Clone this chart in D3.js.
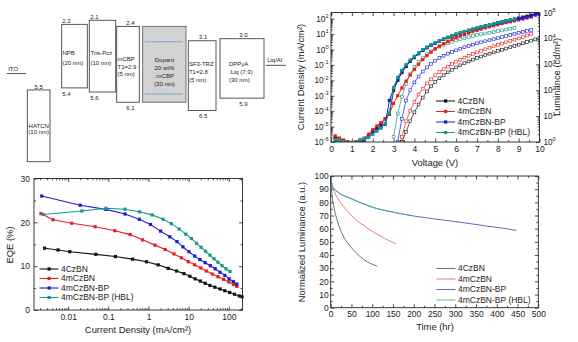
<!DOCTYPE html>
<html>
<head>
<meta charset="utf-8">
<script src="https://cdn.jsdelivr.net/npm/d3@7"></script>
<style>
  body { margin: 0; background: #fff; }
  text { font-family: "Liberation Sans", Arial, sans-serif; fill: #222; }
</style>
</head>
<body>
<script>
// ---------------- data: energy diagram ----------------
const layerNames = ["HATCN", "NPB", "Tris-Pcz", "mCBP", "Dopant", "SF3-TRZ", "DPPyA"];
const layerLumo = [5.5, 2.3, 2.1, 2.4, 2.4, 3.1, 3.0];
const layerHomo = [9.0, 5.4, 5.6, 6.1, 6.1, 6.5, 5.9];
const lumoLabels = ["5.5", "2.3", "2.1", "2.4", "", "3.1", "3.0"];
const homoLabels = ["", "5.4", "5.6", "6.1", "", "6.5", "5.9"];
const layerLines = [
  ["HATCN", "(10 nm)"],
  ["NPB", "(20 nm)"],
  ["Tris-Pcz", "(10 nm)"],
  ["mCBP", "T1=2.9", "(5 nm)"],
  ["Dopant", "20 wt%", ":mCBP", "(30 nm)"],
  ["SF3-TRZ", "T1=2.8", "(5 nm)"],
  ["DPPyA", ":Liq (7:3)", "(30 nm)"]
];
const electrodeNames = ["ITO", "Liq/Al"];
const electrodeLevels = [4.7, 4.3];
const dopantLevels = [3.15, 5.7];

// ---------------- data: J-V-L ----------------
const seriesNames = ["4CzBN", "4mCzBN", "4mCzBN-BP", "4mCzBN-BP (HBL)"];
const voltage = [0.2, 0.4, 0.6, 0.8, 1.0, 1.2, 1.4, 1.6, 1.8, 2.0, 2.2, 2.4, 2.6, 2.8, 3.0,
  3.2, 3.4, 3.6, 3.8, 4.0, 4.2, 4.4, 4.6, 4.8, 5.0, 5.2, 5.4, 5.6, 5.8, 6.0,
  6.2, 6.4, 6.6, 6.8, 7.0, 7.2, 7.4, 7.6, 7.8, 8.0, 8.2, 8.4, 8.6, 8.8, 9.0,
  9.2, 9.4, 9.6, 9.8, 10.0];
const jCzBN = [2.0e-6, 1.6e-6, 1.3e-6, 1.0e-6, 8.9e-7, 1.0e-6, 1.3e-6, 1.6e-6, 2.5e-6, 5.0e-6, 8.9e-6, 1.6e-5, 3.2e-5, 6.3e-5,
  2.2e-3, 0.010, 0.032, 0.079, 0.17, 0.30, 0.54, 0.87, 1.3, 1.9, 2.6, 3.5, 4.7, 6.0, 7.8, 9.8,
  12, 14.5, 17.4, 20.9, 24.5, 28.8, 33.9, 39.8, 46.8, 55, 63, 72, 83, 95, 110, 126, 145, 166, 195, 229];
const jmCzBN = [2.5e-6, 1.8e-6, 1.3e-6, 1.0e-6, 8.9e-7, 1.0e-6, 1.3e-6, 1.8e-6, 3.2e-6, 6.3e-6, 1.1e-5, 1.8e-5, 3.2e-5, 6.3e-5,
  3.2e-4, 1.0e-3, 3.2e-3, 8.9e-3, 0.022, 0.052, 0.11, 0.22, 0.40, 0.68, 1.1, 1.66, 2.4, 3.3, 4.5, 5.9,
  7.6, 9.5, 11.7, 14.5, 17.4, 20.9, 25.1, 29.5, 34.7, 40.7, 47.9, 55, 63, 72, 83, 95, 110, 126];
const jBP = [1.3e-6, 1.0e-6, 8.9e-7, 7.9e-7, 7.9e-7, 7.9e-7, 8.9e-7, 1.3e-6, 2.0e-6, 3.5e-6, 6.3e-6, 1.0e-5, 1.4e-5, 5.0e-4,
  2.8e-3, 0.011, 0.035, 0.085, 0.18, 0.32, 0.55, 0.89, 1.35, 1.9, 2.6, 3.5, 4.6, 5.9, 7.4, 9.3,
  11.5, 13.8, 16.6, 19.5, 22.9, 26.9, 31.6, 37.2, 42.7, 49, 56, 65, 74, 85, 98, 112, 129, 148, 170, 195];
const jHBL = [1.4e-6, 1.3e-6, 1.0e-6, 8.9e-7, 7.9e-7, 1.0e-6, 1.4e-6, 1.6e-6, 2.0e-6, 3.2e-6, 5.0e-6, 7.9e-6, 1.6e-5, 7.9e-5,
  3.5e-3, 0.016, 0.045, 0.105, 0.21, 0.36, 0.62, 0.98, 1.45, 2.0, 2.8, 3.7, 4.9, 6.3, 7.9, 10,
  12.3, 14.8, 17.8, 20.9, 24.5, 28.8, 33.9, 39.8, 46.8, 53.7, 61.7, 70.8, 81.3, 93.3];
// luminance, aligned with the voltage list (null = not measured / below range)
const lCzBN = [null, null, null, null, null, null, null, null, null, null, null, null, null, null, null,
  0.32, 1.0, 2.5, 6.3, 14, 28, 52, 89, 141, 209, 288, 380, 490, 617, 759,
  912, 1100, 1290, 1510, 1740, 2000, 2290, 2570, 2880, 3240, 3630, 4070, 4570, 5130, 5750,
  6460, 7240, 8130, 9120, 10500];
const lmCzBN = [null, null, null, null, null, null, null, null, null, null, null, null, null, null, null,
  0.35, 1.6, 6.3, 16, 35, 68, 115, 182, 263, 380, 500, 646, 813, 1020, 1260,
  1510, 1820, 2140, 2510, 2880, 3310, 3800, 4370, 5010, 5620, 6310, 7080, 7940, 8910, 10000,
  11200, 12900, 14800];
const lBP = [null, null, null, null, null, null, null, null, null, null, null, null, null, null, null,
  1.0, 7.9, 40, 100, 200, 339, 525, 759, 1050, 1380, 1740, 2140, 2570, 3020, 3470,
  3980, 4570, 5130, 5750, 6460, 7080, 7760, 8510, 9330, 10200, 11200, 12300, 13500, 14800, 16200,
  17800, 19500, 21400];
const lHBL = [null, null, null, null, null, null, null, null, null, null, null, null, null, null, 1.6,
  12.6, 56, 178, 417, 794, 1260, 1820, 2450, 3160, 3980, 4790, 5620, 6460, 7410, 8320,
  9330, 10200, 11200, 12300, 13500, 14500, 15500, 16600, 17800, 19100, 20400, 21900, 23400, 25100];

// ---------------- data: EQE ----------------
const eqeJ_CzBN = [0.0026, 0.0056, 0.011, 0.049, 0.15, 0.40, 0.89, 1.74, 3.1, 5.0, 7.6, 10.7, 14.5, 19.5, 25.7, 33.9, 44.7, 60.3, 79.4, 105, 138, 182, 214];
const eqe_CzBN = [14.1, 13.7, 13.3, 12.7, 12.2, 11.6, 11.0, 10.3, 9.5, 8.9, 8.3, 7.7, 7.1, 6.6, 6.1, 5.6, 5.2, 4.8, 4.4, 4.0, 3.6, 3.2, 3.0];
const eqeJ_mCzBN = [0.0021, 0.0042, 0.0123, 0.047, 0.145, 0.35, 0.71, 1.45, 2.6, 4.3, 6.6, 9.8, 14.1, 20, 27.5, 38.9, 53.7, 74, 100, 132, 158];
const eqe_mCzBN = [22.0, 20.6, 19.8, 19.0, 18.1, 17.2, 16.0, 14.8, 13.8, 12.8, 11.9, 11.0, 10.3, 9.6, 8.9, 8.2, 7.6, 7.0, 6.4, 5.8, 5.4];
const eqeJ_BP = [0.0022, 0.020, 0.087, 0.26, 0.59, 1.12, 2.0, 3.4, 5.1, 7.2, 10.2, 14.1, 19, 25.7, 34.7, 45.7, 60.3, 79.4, 102, 129, 158];
const eqe_BP = [26.0, 23.9, 22.95, 21.9, 20.7, 19.5, 18.0, 16.7, 15.6, 14.4, 13.3, 12.3, 11.5, 10.8, 10.1, 9.4, 8.6, 7.9, 7.1, 6.5, 5.9];
const eqeJ_HBL = [0.0024, 0.022, 0.087, 0.26, 0.60, 1.23, 2.3, 3.7, 5.8, 8.5, 11.7, 15.8, 20.4, 26.3, 33.9, 42.7, 53.7, 67.6, 85.1, 107];
const eqe_HBL = [21.8, 22.6, 23.2, 23.0, 22.4, 21.7, 20.7, 19.7, 18.5, 17.3, 16.3, 15.2, 14.3, 13.4, 12.5, 11.7, 10.9, 10.1, 9.4, 8.8];

// ---------------- data: lifetime ----------------
const timeCzBN = [0, 1, 2, 3, 5, 7, 10, 15, 20, 25, 30, 40, 50, 60, 70, 80, 90, 100, 112];
const lumCzBN = [100, 93, 89, 86, 81, 77.5, 73, 67, 62, 58, 54.5, 49.5, 45.5, 42, 39, 36.5, 34.5, 33, 31.5];
const timemCzBN = [0, 1, 2, 3, 5, 7, 10, 15, 20, 30, 40, 50, 60, 70, 80, 90, 100, 110, 120, 130, 140, 150, 157];
const lummCzBN = [100, 96, 94, 92.5, 90.5, 89, 87, 84, 81.5, 77, 73.5, 70, 67, 64.5, 62.5, 60, 58, 56, 54.5, 52.5, 51, 49.5, 48.5];
const timeBP = [0, 1, 2, 3, 5, 7, 10, 15, 20, 30, 40, 50, 60, 80, 100, 125, 150, 175, 200, 225, 250, 275, 300, 325, 350, 375, 400, 425, 447];
const lumBP = [100, 96, 94, 93, 91.5, 90.5, 89.5, 88.2, 87, 85.3, 84, 82.6, 81.2, 78.7, 76.3, 74.2, 72.5, 71, 69.6, 68.5, 67.4, 66.4, 65.4, 64.3, 63.2, 62, 61, 59.9, 58.7];
const timeHBL = [0, 1, 2, 3, 5, 7, 10, 15, 20, 30, 40, 50, 60, 80, 100, 125, 150, 175, 190];
const lumHBL = [100, 96.5, 94.5, 93.2, 91.8, 90.8, 89.7, 88.4, 87.2, 85.5, 84.1, 82.8, 81.4, 78.9, 76.5, 74.3, 72.6, 71.1, 70.3];

// ---------------- styles ----------------
const FONT = '"Liberation Sans", Arial, sans-serif';
const strongColors = ["#111111", "#e8201c", "#1c1cd8", "#16998a"];
const lightColors = ["#606060", "#e87272", "#5050c8", "#44b5a3"];
const INK = "#222";

const svg = d3.select("body").append("svg").attr("width", 578).attr("height", 342);
const defs = svg.append("defs");

function frame(r) {
  svg.append("rect").attr("x", r.left).attr("y", r.top)
    .attr("width", r.right - r.left).attr("height", r.bottom - r.top)
    .attr("fill", "none").attr("stroke", INK).attr("stroke-width", 0.9);
}
function clipFor(id, r) {
  defs.append("clipPath").attr("id", id).append("rect")
    .attr("x", r.left).attr("y", r.top).attr("width", r.right - r.left).attr("height", r.bottom - r.top);
  return svg.append("g").attr("clip-path", `url(#${id})`);
}
function axis(gen, vals, size, fmt, transform, pad) {
  const g = svg.append("g").attr("transform", transform)
    .call(gen.tickValues(vals).tickSize(size).tickPadding(pad || 3).tickFormat(fmt || ""));
  g.select(".domain").remove();
  g.selectAll("line").attr("stroke", INK).attr("stroke-width", 0.8);
  g.selectAll("text").attr("font-family", FONT).attr("font-size", 8.5).attr("fill", INK);
  return g;
}
function title(txt, x, y, rot) {
  svg.append("text").attr("x", x).attr("y", y).attr("text-anchor", "middle").attr("dy", "0.35em")
    .attr("font-size", 9.4).attr("transform", rot ? `rotate(-90,${x},${y})` : null).text(txt);
}
function squares(g, pts, color, size, open) {
  g.append("g").selectAll("rect").data(pts).join("rect")
    .attr("x", d => d[0] - size / 2).attr("y", d => d[1] - size / 2)
    .attr("width", size).attr("height", size)
    .attr("fill", open ? "#fff" : color).attr("stroke", open ? color : "none").attr("stroke-width", 0.6);
}
function path(g, pts, color, w) {
  g.append("path").attr("d", d3.line()(pts)).attr("fill", "none")
    .attr("stroke", color).attr("stroke-width", w);
}
function legend(x0, ys, colors, withMarks, w) {
  seriesNames.forEach((name, i) => {
    const y = ys[i];
    svg.append("line").attr("x1", x0).attr("x2", x0 + 19).attr("y1", y).attr("y2", y)
      .attr("stroke", colors[i]).attr("stroke-width", w);
    if (withMarks) svg.append("rect").attr("x", x0 + 8).attr("y", y - 1.6).attr("width", 3.2).attr("height", 3.2).attr("fill", colors[i]);
    svg.append("text").attr("x", x0 + 21.5).attr("y", y).attr("dy", "0.35em").attr("font-size", 8.5).text(name);
  });
}
function powLabels(scale, vals, x, anchor) {
  svg.append("g").selectAll("text").data(vals).join("text")
    .attr("x", x).attr("y", d => scale(d) + 3).attr("text-anchor", anchor).attr("font-size", 8.2)
    .each(function (d) {
      const t = d3.select(this);
      t.append("tspan").text("10");
      t.append("tspan").attr("dy", -3.6).attr("font-size", 5.6).text(Math.round(Math.log10(d)));
    });
}

// ================= top-left: energy level diagram =================
const eScale = d3.scaleLinear().domain([2, 9]).range([18.2, 161.7]);
const boxLeft = [27.3, 61.7, 89.3, 116.7, 142.7, 188.3, 220];
const boxWidth = [22.7, 25.6, 26.4, 22.6, 43.3, 27.7, 44];
const textLayout = [
  { anchor: "middle", dx: 11.4, y: 125.5, step: 6.8 },
  { anchor: "start", dx: 0.8, y: 52.7, step: 10 },
  { anchor: "start", dx: 1.2, y: 52.7, step: 10 },
  { anchor: "start", dx: 0.8, y: 59.3, step: 7.3 },
  { anchor: "middle", dx: 21.7, y: 60, step: 7.8 },
  { anchor: "start", dx: 0.6, y: 64, step: 7.7 },
  { anchor: "start", dx: 9, y: 64, step: 7.9 }
];
const levelAnchor = ["middle", "start", "start", "middle", "middle", "middle", "middle"];
const levelShift = [0, 0.5, 1, 2.5, 0, 1, 1.5];

const diag = svg.append("g");
layerNames.forEach((name, i) => {
  const x = boxLeft[i], w = boxWidth[i];
  const y0 = eScale(layerLumo[i]), y1 = eScale(layerHomo[i]);
  const isDopant = name === "Dopant";
  diag.append("rect").attr("x", x).attr("y", y0).attr("width", w).attr("height", y1 - y0)
    .attr("fill", isDopant ? "#d2d2d2" : "#fff").attr("stroke", isDopant ? "#666" : "#444").attr("stroke-width", 0.9);
  if (isDopant) {
    dopantLevels.forEach(lv => {
      diag.append("line").attr("x1", x + 2.5).attr("x2", x + w - 3).attr("y1", eScale(lv)).attr("y2", eScale(lv))
        .attr("stroke", "#3f86d8").attr("stroke-width", 1).attr("stroke-dasharray", "1.2,0.9");
    });
  }
  const tl = textLayout[i];
  layerLines[i].forEach((ln, k) => {
    diag.append("text").attr("x", x + tl.dx).attr("y", tl.y + k * tl.step).attr("dy", "0.35em")
      .attr("text-anchor", tl.anchor).attr("font-size", 6).attr("fill", "#333").text(ln);
  });
  const lx = levelAnchor[i] === "middle" ? x + w / 2 + levelShift[i] : x + levelShift[i];
  if (lumoLabels[i]) diag.append("text").attr("x", lx).attr("y", y0 - 3.4).attr("dy", "0.35em")
    .attr("text-anchor", levelAnchor[i]).attr("font-size", 6).attr("fill", "#333").text(lumoLabels[i]);
  if (homoLabels[i]) diag.append("text").attr("x", lx).attr("y", y1 + 5.6).attr("dy", "0.35em")
    .attr("text-anchor", levelAnchor[i]).attr("font-size", 6).attr("fill", "#333").text(homoLabels[i]);
});
const electrodeX = [[6.7, 26], [265.7, 286]];
electrodeNames.forEach((name, i) => {
  const y = eScale(electrodeLevels[i]);
  diag.append("line").attr("x1", electrodeX[i][0]).attr("x2", electrodeX[i][1]).attr("y1", y).attr("y2", y)
    .attr("stroke", "#444").attr("stroke-width", 0.9);
  diag.append("text").attr("x", electrodeX[i][0] + 1.5).attr("y", y - 5).attr("dy", "0.35em")
    .attr("font-size", 6).attr("fill", "#333").text(name);
});

// ================= top-right: J-V-L =================
const tr = { left: 331, right: 539.5, top: 12.5, bottom: 142 };
const xV = d3.scaleLinear().domain([0, 10]).range([tr.left, tr.right]);
const yJ = d3.scaleLog().domain([1e-6, Math.pow(10, 2.4)]).range([tr.bottom, tr.top]);
const yLum = d3.scaleLog().domain([1, 1e5]).range([tr.bottom, tr.top]);

const jDecades = [1e-6, 1e-5, 1e-4, 1e-3, 1e-2, 1e-1, 1, 10, 100];
const lDecades = [1, 10, 100, 1000, 1e4, 1e5];
const vMajor = d3.range(0, 11, 1);
const vMinor = d3.range(0.5, 10, 1);
const jMinor = yJ.ticks().filter(d => !jDecades.some(k => Math.abs(k - d) / k < 1e-6));
const lMinor = yLum.ticks().filter(d => !lDecades.includes(d));

axis(d3.axisBottom(xV), vMajor, -3.5, d3.format("d"), `translate(0,${tr.bottom})`, 3.5);
axis(d3.axisBottom(xV), vMinor, -2, "", `translate(0,${tr.bottom})`);
axis(d3.axisTop(xV), vMajor, -3.5, "", `translate(0,${tr.top})`);
axis(d3.axisTop(xV), vMinor, -2, "", `translate(0,${tr.top})`);
axis(d3.axisLeft(yJ), jDecades, -3.5, "", `translate(${tr.left},0)`);
axis(d3.axisLeft(yJ), jMinor, -1.8, "", `translate(${tr.left},0)`);
axis(d3.axisRight(yLum), lDecades, -3.5, "", `translate(${tr.right},0)`);
axis(d3.axisRight(yLum), lMinor, -1.8, "", `translate(${tr.right},0)`);
powLabels(yJ, jDecades, tr.left - 2.5, "end");
powLabels(yLum, lDecades, tr.right + 4, "start");

const jvClip = clipFor("jv", tr);
const jSets = [jCzBN, jmCzBN, jBP, jHBL];
const lSets = [lCzBN, lmCzBN, lBP, lHBL];
lSets.forEach((vals, i) => {
  const pts = vals.map((v, k) => v == null ? null : [xV(voltage[k]), yLum(v)]).filter(p => p);
  path(jvClip, pts, strongColors[i], 0.7);
  squares(jvClip, pts, strongColors[i], 2.8, true);
});
jSets.forEach((vals, i) => {
  const pts = vals.map((v, k) => [xV(voltage[k]), yJ(v)]);
  path(jvClip, pts, strongColors[i], 1);
  squares(jvClip, pts, strongColors[i], 3.2, false);
});
frame(tr);
title("Current Density (mA/cm\u00b2)", 301, 77, true);
title("Luminance (cd/m\u00b2)", 557, 77, true);
title("Voltage (V)", 435, 163, false);
legend(436, [101, 111.5, 122, 132.5], strongColors, true, 1);

// ================= bottom-left: EQE =================
const bl = { left: 34, right: 242.5, top: 178.5, bottom: 310 };
const xJ = d3.scaleLog().domain([Math.pow(10, -2.85), Math.pow(10, 2.34)]).range([bl.left, bl.right]);
const yE = d3.scaleLinear().domain([0, 30]).range([bl.bottom, bl.top]);
const jMajor = [0.01, 0.1, 1, 10, 100];
const jxMinor = xJ.ticks().filter(d => !jMajor.some(k => Math.abs(k - d) / k < 1e-6));
const eMajor = [0, 10, 20, 30];
const eMinor = [5, 15, 25];

axis(d3.axisBottom(xJ), jMajor, -3.5, d => d >= 1 ? d3.format("d")(d) : String(d), `translate(0,${bl.bottom})`, 4);
axis(d3.axisBottom(xJ), jxMinor, -1.8, "", `translate(0,${bl.bottom})`);
axis(d3.axisTop(xJ), jMajor, -3.5, "", `translate(0,${bl.top})`);
axis(d3.axisTop(xJ), jxMinor, -1.8, "", `translate(0,${bl.top})`);
axis(d3.axisLeft(yE), eMajor, -3.5, d3.format("d"), `translate(${bl.left},0)`, 4);
axis(d3.axisLeft(yE), eMinor, -2, "", `translate(${bl.left},0)`);
axis(d3.axisRight(yE), eMajor, -3.5, "", `translate(${bl.right},0)`);
axis(d3.axisRight(yE), eMinor, -2, "", `translate(${bl.right},0)`);

const eqeClip = clipFor("eqe", { left: bl.left - 2, right: bl.right + 2, top: bl.top, bottom: bl.bottom });
const eqeX = [eqeJ_CzBN, eqeJ_mCzBN, eqeJ_BP, eqeJ_HBL];
const eqeY = [eqe_CzBN, eqe_mCzBN, eqe_BP, eqe_HBL];
eqeX.forEach((xs, i) => {
  const pts = xs.map((v, k) => [xJ(v), yE(eqeY[i][k])]);
  path(eqeClip, pts, strongColors[i], 1.1);
  squares(eqeClip, pts, strongColors[i], 3.2, false);
});
frame(bl);
title("EQE (%)", 10, 245, true);
title("Current Density (mA/cm\u00b2)", 138, 330, false);
legend(39.5, [269, 278.5, 288, 297.5], strongColors, true, 1.1);

// ================= bottom-right: lifetime =================
const br = { left: 330.7, right: 538.3, top: 176, bottom: 307.7 };
const xT = d3.scaleLinear().domain([0, 500]).range([br.left, br.right]);
const yN = d3.scaleLinear().domain([0, 100]).range([br.bottom, br.top]);
const tMajor = d3.range(0, 501, 50);
const tMinor = d3.range(25, 500, 50);
const nMajor = d3.range(0, 101, 10);
const nMinor = d3.range(5, 100, 10);

axis(d3.axisBottom(xT), tMajor, -3.5, d3.format("d"), `translate(0,${br.bottom})`, 3.5);
axis(d3.axisBottom(xT), tMinor, -2, "", `translate(0,${br.bottom})`);
axis(d3.axisTop(xT), tMajor, -3.5, "", `translate(0,${br.top})`);
axis(d3.axisTop(xT), tMinor, -2, "", `translate(0,${br.top})`);
axis(d3.axisLeft(yN), nMajor, -3.5, d3.format("d"), `translate(${br.left},0)`, 2);
axis(d3.axisLeft(yN), nMinor, -2, "", `translate(${br.left},0)`);
axis(d3.axisRight(yN), nMajor, -3.5, "", `translate(${br.right},0)`);
axis(d3.axisRight(yN), nMinor, -2, "", `translate(${br.right},0)`);

const ltClip = clipFor("lt", br);
const tSets = [timeCzBN, timemCzBN, timeBP, timeHBL];
const nSets = [lumCzBN, lummCzBN, lumBP, lumHBL];
tSets.forEach((ts, i) => {
  const pts = ts.map((t, k) => [xT(t), yN(nSets[i][k])]);
  ltClip.append("path").attr("d", d3.line().curve(d3.curveMonotoneX)(pts)).attr("fill", "none")
    .attr("stroke", lightColors[i]).attr("stroke-width", 0.9);
});
frame(br);
title("Normalized Luminance (a.u.)", 302, 242, true);
title("Time (hr)", 435, 327, false);
legend(436.5, [268.5, 279, 289.5, 300], lightColors, false, 0.9);
</script>
</body>
</html>
